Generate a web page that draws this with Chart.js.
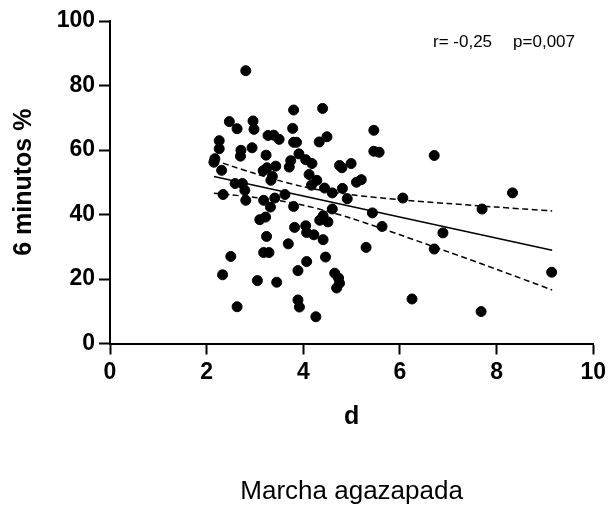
<!DOCTYPE html>
<html>
<head>
<meta charset="utf-8">
<script src="https://cdn.jsdelivr.net/npm/chart.js@4/dist/chart.umd.min.js"></script>
<style>
  body { margin: 0; background: #fff; }
</style>
</head>
<body>
<canvas id="chart-marcha" width="610" height="506"></canvas>
<script>
// datos: d (x) y 6 minutos % (y)
var puntosX = [2.81, 3.80, 4.40, 2.47, 2.63, 2.96, 2.98, 3.78, 3.27, 3.39,
               3.50, 2.26, 2.26, 2.71, 2.70, 2.94, 3.80, 3.86, 4.33, 4.49,
               5.46, 5.46, 5.57, 3.23, 2.17, 2.15, 2.31, 3.17, 3.25, 3.43,
               3.36, 3.33, 3.71, 3.74, 3.91, 4.05, 4.18, 4.75, 4.80, 4.99,
               4.12, 4.28, 4.17, 4.44, 4.60, 4.81, 5.10, 5.20, 4.91, 2.59,
               2.74, 2.79, 2.34, 2.81, 3.18, 3.41, 3.62, 3.32, 3.80, 4.60,
               4.41, 4.34, 4.51, 5.43, 5.63, 3.10, 3.22, 3.82, 4.05, 4.07,
               4.22, 3.24, 3.69, 4.41, 5.30, 2.50, 3.18, 3.29, 4.46, 4.07,
               3.89, 2.33, 3.05, 3.45, 4.65, 4.73, 4.75, 4.69, 3.89, 3.92,
               2.63, 4.26, 6.71, 6.06, 8.33, 7.70, 6.89, 6.71, 9.14, 6.25,
               7.68];
var puntosY = [84.6, 72.4, 72.9, 68.8, 66.6, 69.0, 66.4, 66.7, 64.5, 64.6,
               63.3, 62.9, 60.4, 59.9, 58.1, 60.7, 62.4, 62.4, 62.5, 64.1,
               66.1, 59.6, 59.3, 58.4, 57.3, 56.2, 53.7, 53.6, 54.5, 55.0,
               51.8, 50.6, 54.7, 56.7, 58.8, 57.0, 55.8, 55.2, 54.5, 55.8,
               52.4, 50.6, 49.1, 48.2, 46.7, 48.1, 50.0, 50.8, 44.9, 49.6,
               49.6, 47.5, 46.2, 44.4, 44.4, 45.1, 46.2, 42.3, 42.5, 41.7,
               39.6, 38.2, 37.7, 40.5, 36.3, 38.4, 39.2, 36.0, 36.5, 34.4,
               33.7, 33.2, 30.9, 32.2, 29.8, 27.0, 28.2, 28.2, 26.8, 25.4,
               22.6, 21.3, 19.5, 19.0, 21.8, 20.3, 18.7, 17.2, 13.5, 11.3,
               11.4, 8.3, 58.3, 45.1, 46.7, 41.7, 34.3, 29.3, 22.1, 13.8,
               9.9];

// recta de regresion (extremos leidos)
var rectaX = [2.15, 9.15];
var rectaY = [51.8, 28.9];

// banda de confianza (lineas discontinuas)
var bandaX        = [2.15, 2.5, 3, 3.5, 4, 4.5, 5, 6, 7, 8, 9.15];
var bandaSuperior = [56.9, 55.1, 52.7, 50.5, 48.6, 47.2, 46.1, 44.6, 43.4, 42.3, 41.1];
var bandaInferior = [46.6, 46.1, 45.3, 44.3, 42.9, 41.0, 38.8, 33.7, 28.4, 23.0, 16.6];

// ejes
var ticksX = [0, 2, 4, 6, 8, 10];
var ticksY = [0, 20, 40, 60, 80, 100];

var textos = {
  titulo: 'Marcha agazapada',
  ejeX: 'd',
  ejeY: '6 minutos %',
  r: 'r= -0,25',
  p: 'p=0,007'
};

var FUENTE = '"Liberation Sans", Arial, Helvetica, sans-serif';

function pares(xs, ys) {
  return xs.map(function(x, i) { return { x: x, y: ys[i] }; });
}

// texto r / p arriba a la derecha
var anotacion = {
  id: 'anotacion',
  afterDraw: function(chart) {
    var ctx = chart.ctx;
    ctx.save();
    ctx.fillStyle = '#000';
    ctx.font = '17px ' + FUENTE;
    ctx.textBaseline = 'alphabetic';
    ctx.textAlign = 'left';
    ctx.fillText(textos.r, 433, 47);
    ctx.textAlign = 'right';
    ctx.fillText(textos.p, 575, 47);
    ctx.restore();
  }
};

var ctx = document.getElementById('chart-marcha').getContext('2d');
new Chart(ctx, {
  type: 'scatter',
  data: {
    datasets: [
      {
        data: pares(puntosX, puntosY),
        backgroundColor: '#000',
        borderColor: '#000',
        pointRadius: 5,
        pointHoverRadius: 5
      },
      {
        type: 'line',
        data: pares(rectaX, rectaY),
        borderColor: '#000',
        borderWidth: 1.5,
        pointRadius: 0,
        fill: false
      },
      {
        type: 'line',
        data: pares(bandaX, bandaSuperior),
        borderColor: '#000',
        borderWidth: 1.5,
        borderDash: [6, 3.5],
        pointRadius: 0,
        tension: 0.3,
        fill: false
      },
      {
        type: 'line',
        data: pares(bandaX, bandaInferior),
        borderColor: '#000',
        borderWidth: 1.5,
        borderDash: [6, 3.5],
        pointRadius: 0,
        tension: 0.3,
        fill: false
      }
    ]
  },
  options: {
    responsive: false,
    animation: false,
    layout: { padding: { top: 21, right: 16, left: 0, bottom: 0 } },
    plugins: {
      legend: { display: false },
      tooltip: { enabled: false },
      title: {
        display: true,
        position: 'bottom',
        fullSize: false,
        text: textos.titulo,
        color: '#000',
        font: { family: FUENTE, size: 26, weight: 'normal', lineHeight: 1 },
        padding: { top: 20, bottom: 1 }
      }
    },
    scales: {
      x: {
        type: 'linear',
        min: 0,
        max: 10,
        afterBuildTicks: function(s) { s.ticks = ticksX.map(function(v) { return { value: v }; }); },
        afterFit: function(s) { s.height = 115.5; },
        ticks: { color: '#000', padding: 4, font: { family: FUENTE, size: 23, weight: 'bold' } },
        grid: { drawOnChartArea: false, tickLength: 11, tickWidth: 2, tickColor: '#000' },
        border: { color: '#000', width: 2 },
        title: {
          display: true,
          text: textos.ejeX,
          color: '#000',
          font: { family: FUENTE, size: 25, weight: 'bold', lineHeight: 1.2 },
          padding: { top: 0, bottom: 27 }
        }
      },
      y: {
        type: 'linear',
        min: 0,
        max: 100,
        afterBuildTicks: function(s) { s.ticks = ticksY.map(function(v) { return { value: v }; }); },
        afterFit: function(s) { s.width = 110; },
        ticks: { color: '#000', padding: 4, font: { family: FUENTE, size: 23, weight: 'bold' } },
        grid: { drawOnChartArea: false, tickLength: 11, tickWidth: 2, tickColor: '#000' },
        border: { color: '#000', width: 2 },
        title: {
          display: true,
          text: textos.ejeY,
          color: '#000',
          font: { family: FUENTE, size: 25, weight: 'bold', lineHeight: 1.2 },
          padding: { top: 9, bottom: 0 }
        }
      }
    }
  },
  plugins: [anotacion]
});
</script>
</body>
</html>
